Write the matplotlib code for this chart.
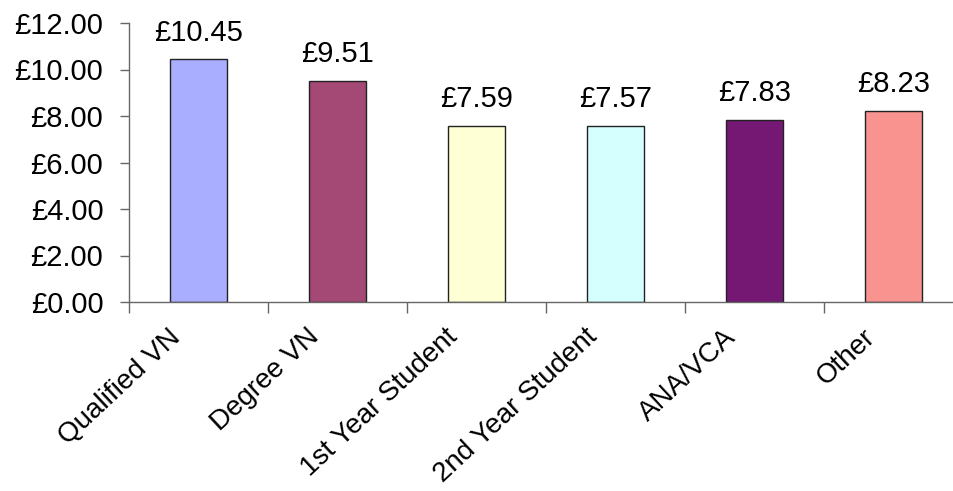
import numpy as np
import matplotlib
matplotlib.use('Agg')
import matplotlib.pyplot as plt
import matplotlib.transforms as mtransforms
from matplotlib.ticker import FixedLocator, NullFormatter

plt.rcParams['font.family'] = ['Liberation Sans', 'DejaVu Sans']

categories = ['Qualified VN', 'Degree VN', '1st Year Student',
              '2nd Year Student', 'ANA/VCA', 'Other']
rates = [10.45, 9.51, 7.59, 7.57, 7.83, 8.23]
colors = ['#AAAEFE', '#A44876', '#FFFFD5', '#D5FFFF', '#741874', '#F9938F']
yticks = [0, 2, 4, 6, 8, 10, 12]

FS = 21

fig = plt.figure(figsize=(9.54, 4.91), dpi=100)
# axes box in pixels: left 129, bottom y 302, top y 23, right past the edge
ax = fig.add_axes([129 / 954, 1 - 302 / 491, 834 / 954, 279 / 491])

x = np.arange(len(categories))
ax.bar(x, rates, width=0.41, color=colors, edgecolor='#222222', linewidth=1.0)

for xi, v in zip(x, rates):
    ax.annotate('£%.2f' % v, (xi, v), xytext=(0, 9), textcoords='offset points',
                ha='center', va='bottom', fontsize=FS)

ax.set_xlim(-0.5, len(categories) - 0.5)
ax.set_ylim(0, 12)
ax.set_yticks(yticks)
ax.set_yticklabels(['£%.2f' % t for t in yticks], fontsize=FS)

# tick marks at category boundaries, labels drawn as text under the centres
ax.xaxis.set_major_locator(FixedLocator(np.arange(len(categories) + 1) - 0.5))
ax.xaxis.set_major_formatter(NullFormatter())
ax.tick_params(axis='x', length=8, color='#666666', width=1)
ax.tick_params(axis='y', length=6.5, color='#666666', width=1, pad=12)

shift = mtransforms.ScaledTranslation(-0.31, -0.22, fig.dpi_scale_trans)
for xi, name in zip(x, categories):
    ax.text(xi, 0, name, transform=ax.get_xaxis_transform() + shift,
            rotation=43, rotation_mode='anchor', ha='right', va='top',
            fontsize=20)

for s in ['top', 'right']:
    ax.spines[s].set_visible(False)
for s in ['left', 'bottom']:
    ax.spines[s].set_color('#666666')
    ax.spines[s].set_linewidth(1)

plt.savefig('out.png', dpi=100)
